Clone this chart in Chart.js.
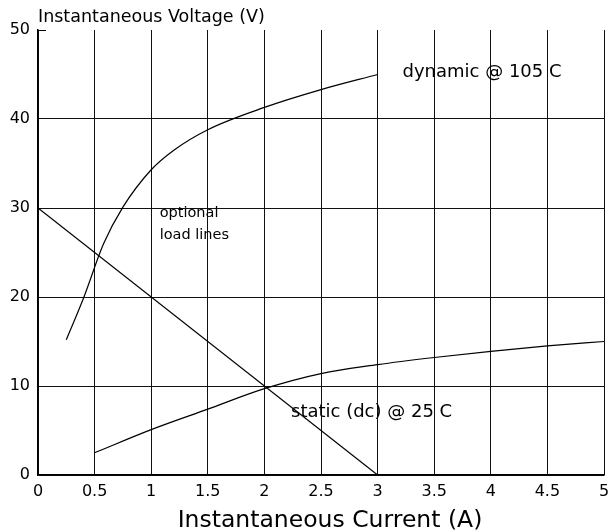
<!DOCTYPE html>
<html lang="en">

<head>
    <meta charset="UTF-8">
    <title>Instantaneous Voltage vs Current</title>
    <script src="https://cdn.jsdelivr.net/npm/chart.js"></script>
    <style>
        html, body { margin: 0; padding: 0; background: #fff; }
        .box { width: 609px; height: 531px; }
    </style>
</head>

<body>
    <div class="box">
        <canvas id="myChart"></canvas>
    </div>

    <script>
        // values (current in A, voltage in V)
        const dynamicX = [0.25, 0.4, 0.58, 0.75, 1, 1.2, 1.5, 2, 2.5, 3]
        const dynamicY = [15.2, 19.8, 26, 30.1, 34.3, 36.5, 38.8, 41.3, 43.3, 45]
        const staticX = [0.5, 1, 1.5, 2, 2.5, 3, 3.5, 4, 4.5, 5]
        const staticY = [2.5, 5.1, 7.4, 9.7, 11.4, 12.4, 13.2, 13.9, 14.5, 15]
        const loadX = [0, 3]
        const loadY = [30, 0]
        const xTicks = [0, 0.5, 1, 1.5, 2, 2.5, 3, 3.5, 4, 4.5, 5]
        const yTicks = [0, 10, 20, 30, 40, 50]

        // text notes, placed in data units
        const notes = [
            { text: 'dynamic @ 105 C', x: 3.22, y: 44.7, size: 18 },
            { text: 'static (dc) @ 25 C', x: 2.235, y: 6.5, size: 18 },
            { text: 'optional', x: 1.075, y: 29.0, size: 14.5 },
            { text: 'load lines', x: 1.075, y: 26.5, size: 14.5 }
        ]

        const FONT = "'DejaVu Sans', 'Liberation Sans', Arial, sans-serif"

        function toPoints(xs, ys) {
            return xs.map((x, i) => ({ x: x, y: ys[i] }))
        }

        const notesPlugin = {
            id: 'notes',
            afterDatasetsDraw(chart) {
                const c = chart.ctx
                const xs = chart.scales.x
                const ys = chart.scales.y
                c.save()
                c.fillStyle = '#000'
                c.textBaseline = 'alphabetic'
                c.textAlign = 'left'
                notes.forEach(n => {
                    c.font = n.size + 'px ' + FONT
                    c.fillText(n.text, xs.getPixelForValue(n.x), ys.getPixelForValue(n.y))
                })
                // y axis title sits on top, left aligned with the axis
                c.font = '17.5px ' + FONT
                c.fillText('Instantaneous Voltage (V)', chart.chartArea.left, 22)
                // x axis title, a little right of centre like the original
                c.font = '23.5px ' + FONT
                c.textAlign = 'center'
                c.fillText('Instantaneous Current (A)', 330, 527)
                // short tick at the top of the y axis
                c.strokeStyle = '#000'
                c.lineWidth = 1
                c.beginPath()
                c.moveTo(chart.chartArea.left, ys.getPixelForValue(50) + 0.5)
                c.lineTo(chart.chartArea.left + 8, ys.getPixelForValue(50) + 0.5)
                c.stroke()
                c.restore()
            }
        }

        const lineStyle = {
            borderColor: '#000',
            borderWidth: 1.2,
            pointRadius: 0,
            showLine: true,
            fill: false
        }

        const ctx = document.getElementById('myChart').getContext('2d')
        const myChart = new Chart(ctx, {
            type: 'scatter',
            data: {
                datasets: [
                    Object.assign({ label: 'dynamic @ 105 C', data: toPoints(dynamicX, dynamicY), cubicInterpolationMode: 'monotone', tension: 0.4 }, lineStyle),
                    Object.assign({ label: 'static (dc) @ 25 C', data: toPoints(staticX, staticY), cubicInterpolationMode: 'monotone', tension: 0.4 }, lineStyle),
                    Object.assign({ label: 'load line', data: toPoints(loadX, loadY), tension: 0 }, lineStyle)
                ]
            },
            options: {
                responsive: true,
                maintainAspectRatio: false,
                animation: false,
                layout: {
                    padding: { top: 30, right: 5, left: 0, bottom: 0 }
                },
                plugins: {
                    legend: { display: false },
                    tooltip: { enabled: false }
                },
                scales: {
                    x: {
                        type: 'linear',
                        min: 0,
                        max: 5,
                        afterBuildTicks: s => { s.ticks = xTicks.map(v => ({ value: v })) },
                        afterFit: s => {
                            s.height = 56
                            s.paddingLeft = 0
                            s.paddingRight = 0
                        },
                        grid: {
                            color: '#111',
                            lineWidth: 1,
                            drawTicks: false
                        },
                        border: { color: '#000', width: 1.5 },
                        ticks: {
                            color: '#000',
                            padding: 7,
                            maxRotation: 0,
                            font: { family: FONT, size: 16 },
                            callback: v => String(v)
                        },
                        title: { display: false }
                    },
                    y: {
                        type: 'linear',
                        min: 0,
                        max: 50,
                        afterBuildTicks: s => { s.ticks = yTicks.map(v => ({ value: v })) },
                        afterFit: s => {
                            s.width = 38
                            s.paddingTop = 0
                            s.paddingBottom = 0
                        },
                        grid: {
                            color: c => c.tick && c.tick.value === 50 ? 'rgba(0,0,0,0)' : '#111',
                            lineWidth: 1,
                            drawTicks: false
                        },
                        border: { color: '#000', width: 1.5 },
                        ticks: {
                            color: '#000',
                            padding: 8,
                            font: { family: FONT, size: 16 }
                        }
                    }
                }
            },
            plugins: [notesPlugin]
        })
    </script>

</body>

</html>
